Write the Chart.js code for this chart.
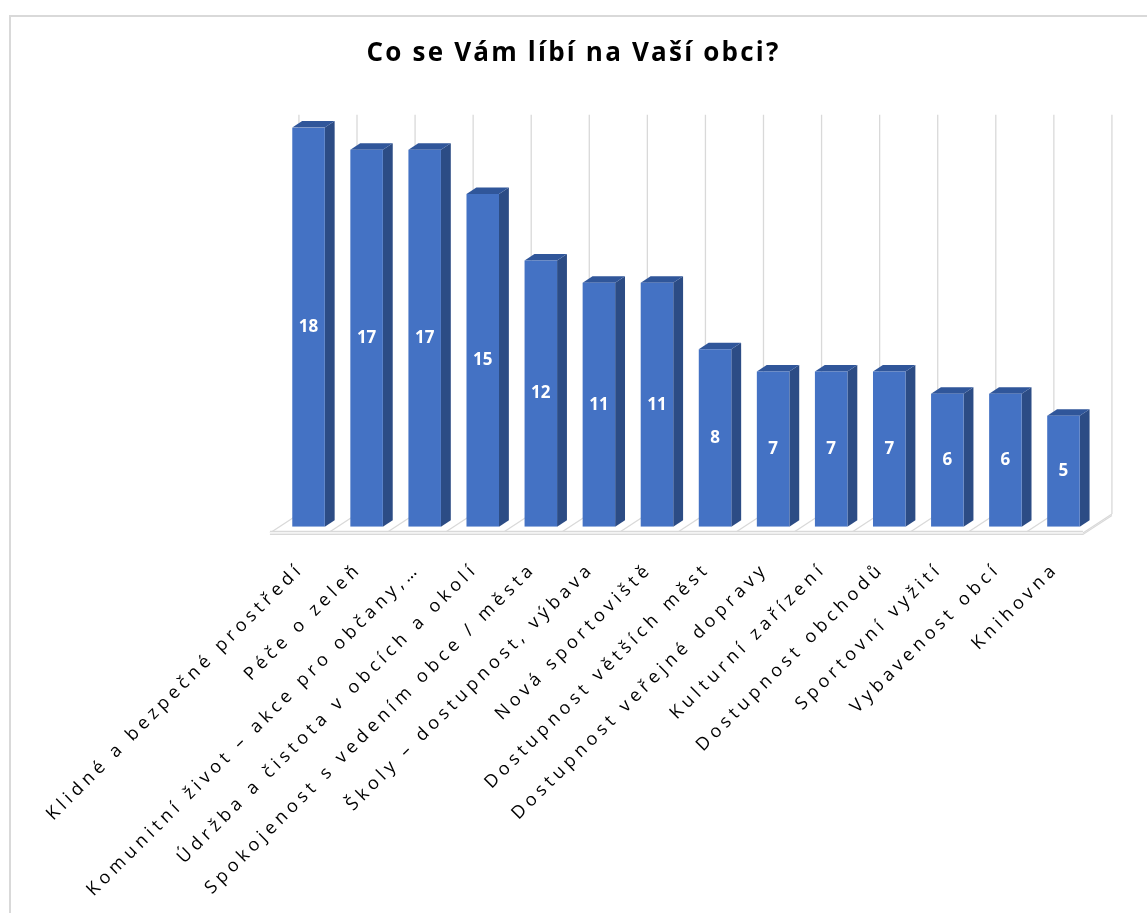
<!DOCTYPE html>
<html lang="cs">
<head>
<meta charset="utf-8">
<title>Co se Vám líbí na Vaší obci?</title>
<script src="https://cdn.jsdelivr.net/npm/chart.js@4.4.1/dist/chart.umd.min.js"></script>
<style>
  html, body { margin: 0; padding: 0; background: #fff; overflow: hidden; }
  canvas { display: block; }
</style>
</head>
<body>
<canvas id="chart" width="1147" height="913"></canvas>
<script>
// Survey answers and how many respondents chose each one
const chartTitle = 'Co se Vám líbí na Vaší obci?';
const categories = [
  'Klidné a bezpečné prostředí',
  'Péče o zeleň',
  'Komunitní život – akce pro občany,…',
  'Údržba a čistota v obcích a okolí',
  'Spokojenost s vedením obce / města',
  'Školy – dostupnost, výbava',
  'Nová sportoviště',
  'Dostupnost větších měst',
  'Dostupnost veřejné dopravy',
  'Kulturní zařízení',
  'Dostupnost obchodů',
  'Sportovní vyžití',
  'Vybavenost obcí',
  'Knihovna'
];
const counts = [18, 17, 17, 15, 12, 11, 11, 8, 7, 7, 7, 6, 6, 5];
const valueRange = [0, 18];

// Pseudo-3D look: depth of the floor and where the columns sit inside it
const FLOOR_DX = 29, FLOOR_DY = -19;
const BAR_FRONT = 0.33, BAR_BACK = 0.67;
const FRONT_COLOR = '#4472C4';
const SIDE_COLOR = '#2C4C85';
const TOP_COLOR = '#30569A';
const GRID_COLOR = '#D9D9D9';

function geometry(chart) {
  const a = chart.chartArea;
  const x = chart.scales.x;
  const ox = FLOOR_DX * BAR_FRONT, oy = FLOOR_DY * BAR_FRONT;
  const step = (x.right - x.left) / categories.length;
  return {
    a, step,
    frontLeft: a.left - ox,
    frontRight: a.right - ox,
    frontY: a.bottom - oy,
    wallTop: a.top + FLOOR_DY * (1 - BAR_FRONT)
  };
}

const scene3d = {
  id: 'scene3d',
  beforeDraw(chart) {
    const ctx = chart.ctx;
    const g = geometry(chart);
    ctx.save();
    // outer frame
    ctx.strokeStyle = GRID_COLOR;
    ctx.lineWidth = 2;
    ctx.beginPath();
    ctx.moveTo(10, chart.height + 5);
    ctx.lineTo(10, 16);
    ctx.lineTo(chart.width + 5, 16);
    ctx.stroke();

    // back wall grid lines at category boundaries
    ctx.lineWidth = 1.3;
    ctx.strokeStyle = GRID_COLOR;
    for (let k = 0; k <= categories.length; k++) {
      const bx = g.frontLeft + k * g.step + FLOOR_DX;
      ctx.beginPath();
      ctx.moveTo(bx, g.frontY + FLOOR_DY);
      ctx.lineTo(bx, g.wallTop);
      ctx.stroke();
    }
    // floor: category divisions and front edge with a little thickness
    for (let k = 0; k <= categories.length; k++) {
      const fx = g.frontLeft + k * g.step;
      ctx.beginPath();
      ctx.moveTo(fx, g.frontY);
      ctx.lineTo(fx + FLOOR_DX, g.frontY + FLOOR_DY);
      ctx.stroke();
    }
    ctx.fillStyle = '#F4F4F4';
    ctx.fillRect(g.frontLeft, g.frontY - 1.5, g.frontRight - g.frontLeft, 3);
    ctx.beginPath();
    ctx.moveTo(g.frontLeft, g.frontY - 1.5);
    ctx.lineTo(g.frontRight, g.frontY - 1.5);
    ctx.moveTo(g.frontLeft, g.frontY + 1.5);
    ctx.lineTo(g.frontRight, g.frontY + 1.5);
    ctx.lineTo(g.frontRight + FLOOR_DX, g.frontY + FLOOR_DY + 1.5);
    ctx.stroke();
    ctx.restore();
    // title is drawn by Chart.js with spaced letters
    ctx.letterSpacing = '2.2px';
  },
  beforeDatasetsDraw(chart) {
    const ctx = chart.ctx;
    ctx.letterSpacing = '0px';
    const dx = FLOOR_DX * (BAR_BACK - BAR_FRONT);
    const dy = FLOOR_DY * (BAR_BACK - BAR_FRONT);
    ctx.save();
    chart.getDatasetMeta(0).data.forEach(bar => {
      const x0 = bar.x - bar.width / 2, x1 = bar.x + bar.width / 2;
      const yt = bar.y, yb = bar.base;
      ctx.fillStyle = SIDE_COLOR;
      ctx.beginPath();
      ctx.moveTo(x1, yt);
      ctx.lineTo(x1 + dx, yt + dy);
      ctx.lineTo(x1 + dx, yb + dy);
      ctx.lineTo(x1, yb);
      ctx.closePath();
      ctx.fill();
      ctx.fillStyle = TOP_COLOR;
      ctx.beginPath();
      ctx.moveTo(x0, yt);
      ctx.lineTo(x1, yt);
      ctx.lineTo(x1 + dx, yt + dy);
      ctx.lineTo(x0 + dx, yt + dy);
      ctx.closePath();
      ctx.fill();
    });
    ctx.restore();
  },
  afterDatasetsDraw(chart) {
    const ctx = chart.ctx;
    ctx.save();
    ctx.letterSpacing = '0px';
    ctx.fillStyle = '#FFFFFF';
    ctx.font = 'bold 17px "Open Sans"';
    ctx.textAlign = 'center';
    ctx.textBaseline = 'middle';
    chart.getDatasetMeta(0).data.forEach((bar, i) => {
      ctx.fillText(String(counts[i]), bar.x, (bar.y + bar.base) / 2);
    });
    ctx.restore();
  },
  afterDraw(chart) {
    // rotated category names under the floor, ending below each column
    const ctx = chart.ctx;
    const g = geometry(chart);
    ctx.save();
    ctx.letterSpacing = '4.5px';
    ctx.fillStyle = '#000000';
    ctx.font = '18px "Open Sans"';
    ctx.textAlign = 'right';
    ctx.textBaseline = 'middle';
    categories.forEach((label, k) => {
      const cx = g.frontLeft + (k + 0.5) * g.step;
      ctx.save();
      ctx.translate(cx + 2, g.frontY + 33);
      ctx.rotate(-Math.PI / 4);
      ctx.fillText(label, 0, 0);
      ctx.restore();
    });
    ctx.restore();
  }
};

const hiddenAxis = {
  display: true,
  grid: { display: false },
  border: { display: false },
  ticks: { display: false }
};

new Chart(document.getElementById('chart'), {
  type: 'bar',
  data: {
    labels: categories,
    datasets: [{
      data: counts,
      backgroundColor: FRONT_COLOR,
      borderWidth: 0,
      categoryPercentage: 1,
      barPercentage: 0.56
    }]
  },
  options: {
    responsive: false,
    devicePixelRatio: 1,
    animation: false,
    layout: { padding: 0 },
    plugins: {
      legend: { display: false },
      tooltip: { enabled: false },
      title: {
        display: true,
        text: chartTitle,
        color: '#000000',
        font: { family: '"Open Sans"', size: 26, weight: 'bold', lineHeight: 1.2 },
        padding: { top: 38.4, bottom: 57.9 }
      }
    },
    scales: {
      x: Object.assign({}, hiddenAxis, {
        type: 'category',
        afterFit(scale) { scale.height = 386.3; }
      }),
      y: Object.assign({}, hiddenAxis, {
        min: valueRange[0],
        max: valueRange[1],
        afterFit(scale) { scale.width = 279.5; }
      }),
      yRight: Object.assign({}, hiddenAxis, {
        position: 'right',
        afterFit(scale) { scale.width = 54.5; }
      })
    }
  },
  plugins: [scene3d]
});
</script>
</body>
</html>
